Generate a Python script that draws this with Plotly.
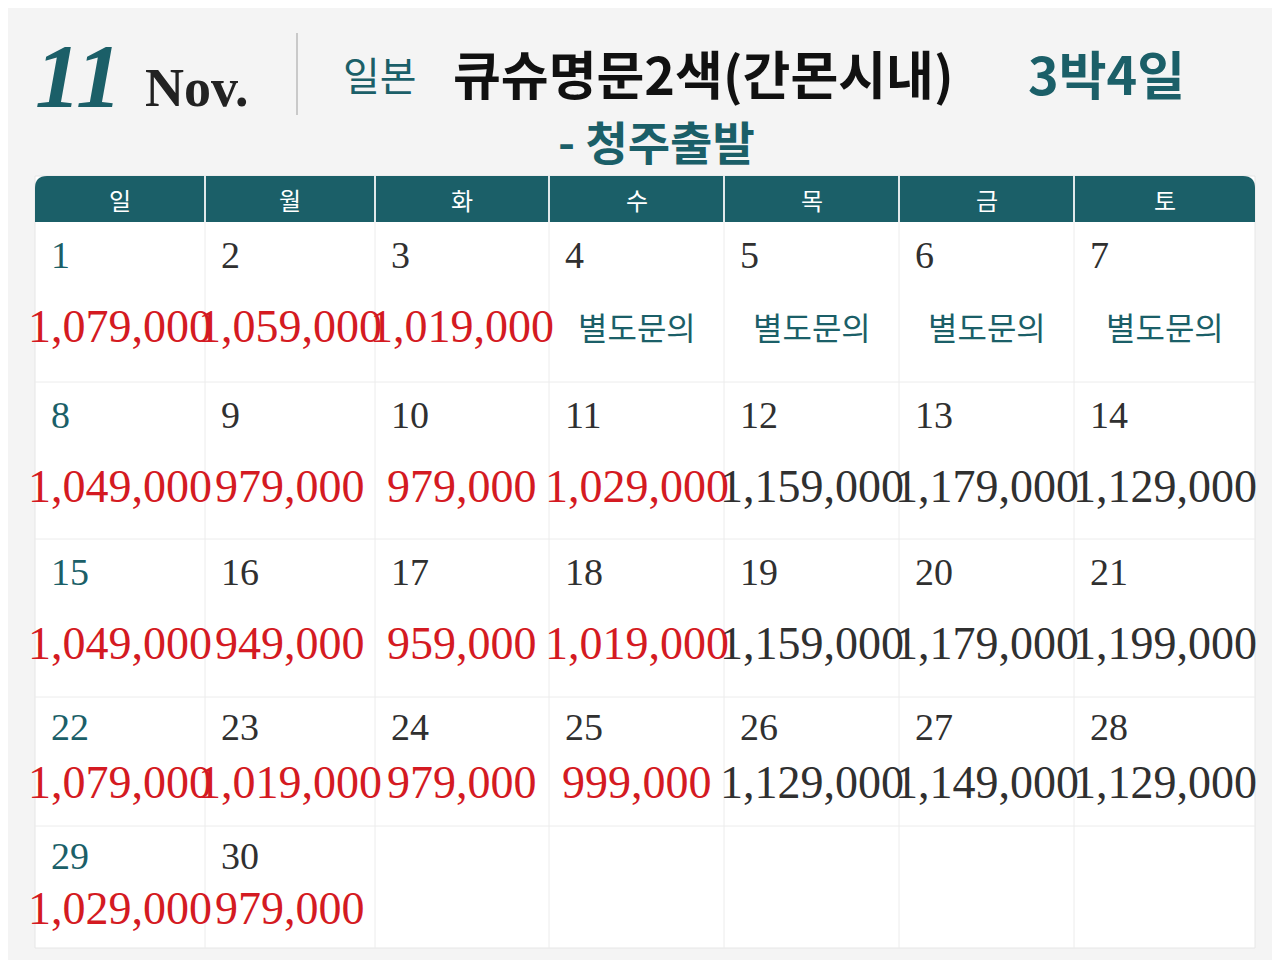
import plotly.graph_objects as go

weekdays = ["일", "월", "화", "수", "목", "금", "토"]
days = list(range(1, 31))
# None = 별도문의
prices = [1079000, 1059000, 1019000, None, None, None, None,
          1049000, 979000, 979000, 1029000, 1159000, 1179000, 1129000,
          1049000, 949000, 959000, 1019000, 1159000, 1179000, 1199000,
          1079000, 1019000, 979000, 999000, 1129000, 1149000, 1129000,
          1029000, 979000]
first_weekday = 0  # Nov 1 is Sunday

TEAL = "#1b5f68"
RED = "#d41a22"
DARK = "#303030"
col_x = [27, 197, 367, 541, 716, 891, 1066, 1247]
row_y = [214, 374, 531, 689, 818, 940]
NUM_FONT = "Liberation Sans Narrow"

fig = go.Figure()
shapes = []
ann = []

# calendar body + header band
shapes.append(dict(type="rect", x0=27, x1=1247, y0=168, y1=940, fillcolor="white",
                   line=dict(color="#e6e6e6", width=1), layer="below"))
shapes.append(dict(type="path", path="M27,214 L27,180 Q27,168 39,168 L1235,168 Q1247,168 1247,180 L1247,214 Z",
                   fillcolor=TEAL, line=dict(width=0)))
for i, wd in enumerate(weekdays):
    ann.append(dict(x=(col_x[i] + col_x[i + 1]) / 2, y=191, text=wd, showarrow=False,
                    font=dict(family="Noto Sans CJK KR", size=24, color="white")))
for x in col_x[1:-1]:
    shapes.append(dict(type="line", x0=x, x1=x, y0=168, y1=940,
                       line=dict(color="#ececec", width=1)))
    shapes.append(dict(type="line", x0=x, x1=x, y0=168, y1=214,
                       line=dict(color="white", width=1.5)))
for y in row_y[1:-1]:
    shapes.append(dict(type="line", x0=27, x1=1247, y0=y, y1=y,
                       line=dict(color="#ececec", width=1)))

for d, p in zip(days, prices):
    idx = d - 1 + first_weekday
    r, c = divmod(idx, 7)
    top = row_y[r]
    tall = r < 3
    dy = 33 if tall else 30
    py = 104 if tall else 85 if r == 3 else 82
    ann.append(dict(x=col_x[c] + 14, y=top + dy, text=str(d), showarrow=False, xanchor="left",
                    font=dict(family=NUM_FONT, size=38, color=TEAL if c == 0 else DARK)))
    cx = (col_x[c] + col_x[c + 1]) / 2
    if p is None:
        ann.append(dict(x=cx, y=top + py, text="별도문의", showarrow=False,
                        font=dict(family="Noto Sans CJK KR", size=32, color=TEAL)))
    else:
        ann.append(dict(x=cx, y=top + py, text=f"{p:,}", showarrow=False,
                        font=dict(family=NUM_FONT, size=46,
                                  color=RED if p < 1100000 else DARK)))

# title
ann += [
    dict(x=25, y=68, text="<b><i>11</i></b>", showarrow=False, xanchor="left",
         font=dict(family="Liberation Serif", size=92, color=TEAL)),
    dict(x=135, y=80, text="<b>Nov.</b>", showarrow=False, xanchor="left",
         font=dict(family="Liberation Serif", size=54, color="#222")),
    dict(x=333, y=66, text="일본", showarrow=False, xanchor="left",
         font=dict(family="Noto Sans CJK KR", size=40, color=TEAL)),
    dict(x=443, y=64, text="<b>큐슈명문2색(간몬시내)</b>", showarrow=False, xanchor="left",
         font=dict(family="Noto Sans CJK KR", size=52, color="#111")),
    dict(x=1018, y=64, text="<b>3박4일</b>", showarrow=False, xanchor="left",
         font=dict(family="Noto Sans CJK KR", size=52, color=TEAL)),
    dict(x=548, y=132, text="<b>- 청주출발</b>", showarrow=False, xanchor="left",
         font=dict(family="Noto Sans CJK KR", size=46, color=TEAL)),
]
shapes.append(dict(type="line", x0=289, x1=289, y0=25, y1=107, line=dict(color="#bbb", width=1.5)))

fig.update_layout(width=1280, height=960, margin=dict(l=0, r=0, t=0, b=0),
                  paper_bgcolor="#f4f4f4", plot_bgcolor="#f4f4f4",
                  xaxis=dict(range=[0, 1280], visible=False),
                  yaxis=dict(range=[960, 0], visible=False),
                  shapes=shapes, annotations=ann, showlegend=False)
fig.write_html("out.html")
